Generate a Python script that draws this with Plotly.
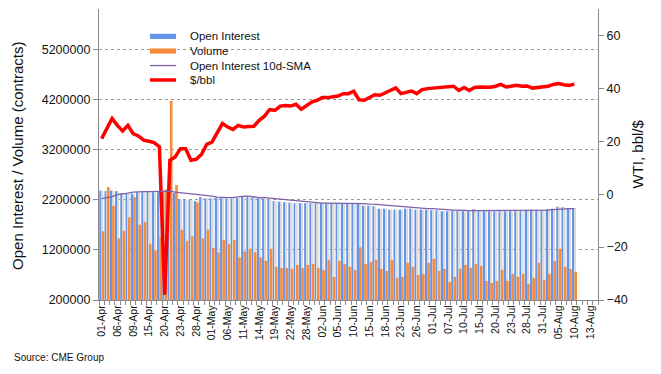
import plotly.graph_objects as go

# ---------------- data ----------------
dates = (
    [f"{d}-Apr" for d in ["01","02","03","06","07","08","09","13","14","15","16","17","20","21","22","23","24","27","28","29","30"]]
    + [f"{d}-May" for d in ["01","04","05","06","07","08","11","12","13","14","15","18","19","20","21","22","26","27","28","29"]]
    + [f"{d}-Jun" for d in ["01","02","03","04","05","08","09","10","11","12","15","16","17","18","19","22","23","24","25","26","29","30"]]
    + [f"{d}-Jul" for d in ["01","02","06","07","08","09","10","13","14","15","16","17","20","21","22","23","24","27","28","29","30","31"]]
    + [f"{d}-Aug" for d in ["03","04","05","06","07","10","11","12","13","14"]]
)

open_interest = [
    2380000, 2370000, 2380000, 2370000, 2330000, 2320000, 2320000, 2350000, 2350000, 2350000,
    2350000, 2350000, 2370000, 2390000, 2330000, 2210000, 2200000, 2190000, 2170000, 2250000,
    2230000, 2230000, 2240000, 2230000, 2220000, 2220000, 2230000, 2270000, 2270000, 2270000,
    2230000, 2220000, 2200000, 2170000, 2160000, 2150000, 2140000, 2130000, 2130000, 2130000,
    2130000, 2130000, 2130000, 2130000, 2130000, 2130000, 2120000, 2120000, 2130000, 2120000,
    2080000, 2080000, 2070000, 2020000, 2020000, 2000000, 2000000, 2000000, 2020000, 2020000,
    2000000, 2000000, 2000000, 1990000, 1990000, 1970000, 1970000, 1980000, 1980000, 1970000,
    1970000, 2010000, 1970000, 1970000, 1970000, 1970000, 1970000, 1970000, 1970000, 1970000,
    1970000, 2000000, 2000000, 2000000, 2000000, 2010000, 2020000, 2060000, 2050000, 2030000,
    2030000,
]

volume = [
    1570000, 2450000, 2080000, 1430000, 1580000, 1850000, 2250000, 1700000, 1760000, 1320000,
    1190000, 1460000, 2400000, 4170000, 2490000, 1600000, 1380000, 1470000, 2140000, 1430000,
    1600000, 1240000, 1150000, 1400000, 1320000, 1400000, 1050000, 1170000, 1220000, 1150000,
    1050000, 980000, 1220000, 860000, 840000, 840000, 820000, 900000, 840000, 900000,
    920000, 840000, 800000, 1000000, 660000, 980000, 920000, 860000, 800000, 1250000,
    920000, 960000, 1000000, 820000, 780000, 1000000, 640000, 660000, 940000, 860000,
    700000, 720000, 940000, 1020000, 780000, 820000, 560000, 660000, 820000, 900000,
    840000, 920000, 880000, 580000, 540000, 580000, 800000, 580000, 720000, 660000,
    720000, 520000, 640000, 940000, 600000, 720000, 980000, 1220000, 860000, 820000,
    760000,
]

oi_sma10 = [
    2220000, 2240000, 2260000, 2300000, 2310000, 2330000, 2350000, 2360000, 2360000, 2360000,
    2360000, 2360000, 2360000, 2370000, 2350000, 2340000, 2330000, 2310000, 2300000, 2290000,
    2280000, 2270000, 2250000, 2240000, 2240000, 2240000, 2260000, 2270000, 2270000, 2250000,
    2240000, 2240000, 2230000, 2220000, 2200000, 2190000, 2190000, 2180000, 2170000, 2150000,
    2150000, 2140000, 2130000, 2130000, 2130000, 2130000, 2130000, 2130000, 2130000, 2130000,
    2120000, 2110000, 2110000, 2100000, 2090000, 2080000, 2070000, 2060000, 2050000, 2050000,
    2040000, 2030000, 2020000, 2020000, 2010000, 2000000, 1990000, 1990000, 1990000, 1980000,
    1980000, 1980000, 1980000, 1980000, 1980000, 1980000, 1980000, 1980000, 1980000, 1980000,
    1980000, 1980000, 1980000, 1980000, 1980000, 1990000, 2000000, 2010000, 2020000, 2020000,
    2020000,
]

wti_price = [
    21.0, 24.8, 28.6, 26.0, 23.9, 26.0, 22.9, 22.0, 20.4, 20.0,
    19.5, 17.9, -38.0, 12.8, 14.1, 17.2, 17.2, 12.8, 13.2, 15.0,
    18.8, 19.7, 23.0, 26.7, 25.4, 24.5, 26.0, 25.4, 25.6, 25.7,
    27.9, 29.5, 32.0, 31.7, 33.3, 33.5, 33.3, 34.0, 32.1, 33.5,
    34.8, 35.5, 36.5, 36.5, 36.7, 37.1, 38.0, 38.0, 38.9, 35.7,
    35.5, 36.5, 37.6, 37.4, 38.4, 39.2, 40.2, 38.0, 38.6, 39.0,
    38.0, 39.5, 39.9, 40.1, 40.4, 40.5, 40.5, 40.8, 39.2, 40.3,
    39.2, 40.3, 40.5, 40.4, 40.4, 40.8, 41.5, 40.5, 40.9, 41.2,
    40.8, 40.9, 40.1, 40.3, 40.4, 40.8, 41.5, 41.8, 41.4, 41.1,
    41.6,
]

left_ticks = [200000, 1200000, 2200000, 3200000, 4200000, 5200000]
right_ticks = [-40, -20, 0, 20, 40, 60]
label_dates = dates[::3]

series_names = ["Open Interest", "Volume", "Open Interest 10d-SMA", "$/bbl"]

# ---------------- styling ----------------
FONT = "Liberation Sans, Arial, sans-serif"
BLUE = "#6396ea"
SHADE = "#dadada"
ORANGE = "#f68a3d"
PURPLE = "#7d5fa8"
RED = "#ff0000"
AXIS = "#8a8a8a"

n = len(open_interest)
xd = dates[:n]

fig = go.Figure()
fig.add_trace(go.Bar(x=xd, y=open_interest, name=series_names[0], marker=dict(color=BLUE, line=dict(width=0)),
                     offset=-0.45, width=0.45, showlegend=False))
fig.add_trace(go.Bar(x=xd, y=open_interest, name="shade", marker=dict(color=SHADE, line=dict(width=0)),
                     offset=0.0, width=0.32, showlegend=False, hoverinfo="skip"))
fig.add_trace(go.Bar(x=xd, y=volume, name=series_names[1], marker=dict(color=ORANGE, line=dict(width=0)),
                     offset=0.0, width=0.5, showlegend=False))
fig.add_trace(go.Scatter(x=xd, y=oi_sma10, name=series_names[2], mode="lines", xaxis="x2",
                         line=dict(color=PURPLE, width=1.3), showlegend=False))
fig.add_trace(go.Scatter(x=xd, y=wti_price, name=series_names[3], mode="lines", yaxis="y2",
                         line=dict(color=RED, width=3.5), showlegend=False))

# page has an 8px body margin: figure is shifted by OFF
OFF = 8
W, H = 661 - OFF, 374 - OFF
X0, X1, Y0, Y1 = 99.0, 598.3, 9.3, 300.0   # plot box in window pixels
L = X0 - OFF
T = Y0 - OFF
R = W - (X1 - OFF)
B = H - (Y1 - OFF)

def px(xpix):
    return (xpix - X0) / (X1 - X0)

def py(ypix):
    return (Y1 - ypix) / (Y1 - Y0)

shapes = []
annotations = []
leg_rows = [36.7, 51.3, 65.8, 80.2]
for k, (name, yy) in enumerate(zip(series_names, leg_rows)):
    if k in (0, 1):
        shapes.append(dict(type="rect", xref="paper", yref="paper", x0=px(150), x1=px(176),
                           y0=py(yy + 2.6), y1=py(yy - 2.6), fillcolor=BLUE if k == 0 else ORANGE,
                           line=dict(width=0)))
    else:
        shapes.append(dict(type="line", xref="paper", yref="paper", x0=px(150), x1=px(176),
                           y0=py(yy), y1=py(yy),
                           line=dict(color=PURPLE if k == 2 else RED, width=1.3 if k == 2 else 3.5)))
    annotations.append(dict(text=name, xref="paper", yref="paper", x=px(188), y=py(yy),
                            xanchor="left", yanchor="middle", showarrow=False,
                            font=dict(family=FONT, size=11.5, color="#111")))

annotations.append(dict(text="Open Interest / Volume (contracts)", xref="paper", yref="paper",
                        x=px(18), y=py(156), xanchor="center", yanchor="middle", textangle=-90,
                        showarrow=False, font=dict(family=FONT, size=15, color="#111")))
annotations.append(dict(text="WTI, bbl/$", xref="paper", yref="paper",
                        x=px(638), y=py(154), xanchor="center", yanchor="middle", textangle=-90,
                        showarrow=False, font=dict(family=FONT, size=15, color="#111")))
annotations.append(dict(text="Source: CME Group", xref="paper", yref="paper",
                        x=px(12), y=py(357), xanchor="left", yanchor="middle",
                        showarrow=False, font=dict(family=FONT, size=10, color="#111")))

xrange_ = [-0.5, len(dates) - 0.5]
fig.update_layout(
    width=W, height=H,
    margin=dict(l=L, r=R, t=T, b=B, pad=0),
    paper_bgcolor="white", plot_bgcolor="white",
    barmode="overlay",
    showlegend=False,
    font=dict(family=FONT, color="#111"),
    xaxis=dict(
        type="category", categoryorder="array", categoryarray=dates, range=xrange_,
        tickmode="array", tickvals=label_dates, ticktext=label_dates,
        tickangle=-90, tickfont=dict(family=FONT, size=10.5, color="#111"),
        ticks="", showline=True, linecolor=AXIS, linewidth=1.2, showgrid=False, zeroline=False,
    ),
    xaxis2=dict(
        type="category", categoryorder="array", categoryarray=dates, range=xrange_,
        overlaying="x", anchor="y", side="bottom",
        tickmode="array", tickvals=dates, showticklabels=False,
        tickson="boundaries", ticks="outside", ticklen=4, tickcolor=AXIS, tickwidth=1,
        showline=False, showgrid=False, zeroline=False,
    ),
    yaxis=dict(
        range=[200000, 6000000], tickmode="array", tickvals=left_ticks,
        tickformat="d", tickfont=dict(family=FONT, size=12.5, color="#111"),
        ticks="outside", ticklen=5, tickcolor=AXIS,
        showline=True, linecolor=AXIS, linewidth=1.2,
        showgrid=True, gridcolor="#9a9a9a", griddash="dot", gridwidth=1, zeroline=False,
    ),
    yaxis2=dict(
        range=[-40, 70], overlaying="y", side="right", tickmode="array", tickvals=right_ticks,
        tickfont=dict(family=FONT, size=12.5, color="#111"),
        ticks="outside", ticklen=5, tickcolor=AXIS,
        showline=True, linecolor=AXIS, linewidth=1.2, showgrid=False, zeroline=False,
    ),
    shapes=shapes,
    annotations=annotations,
)

fig.write_html("out.html")
